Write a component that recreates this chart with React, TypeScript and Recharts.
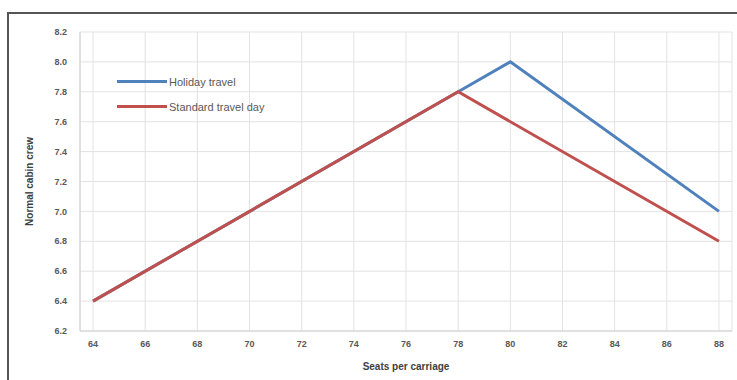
import { LineChart, Line, XAxis, YAxis, CartesianGrid } from "recharts";

const holidaySeats = [64, 78, 80, 88];
const holidayValues = [6.4, 7.8, 8.0, 7.0];
const standardSeats = [64, 78, 88];
const standardValues = [6.4, 7.8, 6.8];
const xTicks = [64, 66, 68, 70, 72, 74, 76, 78, 80, 82, 84, 86, 88];
const yTicks = [6.2, 6.4, 6.6, 6.8, 7.0, 7.2, 7.4, 7.6, 7.8, 8.0, 8.2];

const holidayData = holidaySeats.map((s, i) => ({ seats: s, value: holidayValues[i] }));
const standardData = standardSeats.map((s, i) => ({ seats: s, value: standardValues[i] }));

const blue = "#4f81bd";
const red = "#c0504d";
const font = "Arial, 'Liberation Sans', sans-serif";

function LegendBox() {
  const items = [
    { label: "Holiday travel", color: blue },
    { label: "Standard travel day", color: red },
  ];
  return (
    <div style={{ position: "absolute", left: 108, top: 55, fontFamily: font, fontSize: 11, color: "#595959" }}>
      {items.map((it) => (
        <div key={it.label} style={{ display: "flex", alignItems: "center", height: 25 }}>
          <span style={{ display: "inline-block", width: 50, height: 3, background: it.color, marginRight: 2 }} />
          <span>{it.label}</span>
        </div>
      ))}
    </div>
  );
}

export default function App() {
  return (
    <>
      <style>{"html, body { margin: 0; overflow: hidden; }"}</style>
      <div
        style={{
          position: "absolute",
          left: 7,
          top: 12,
          width: 760,
          height: 400,
          borderLeft: "2px solid #555",
          borderTop: "2px solid #555",
          background: "#fff",
          fontFamily: font,
          boxSizing: "border-box",
        }}
      >
        <LineChart width={728} height={366} margin={{ top: 18, right: 5, bottom: 0, left: 0 }}>
          <CartesianGrid stroke="#e3e3e3" strokeWidth={1} />
          <XAxis
            type="number"
            dataKey="seats"
            domain={[63.5, 88.5]}
            ticks={xTicks}
            interval={0}
            height={49}
            tick={{ fontSize: 9, fill: "#595959", fontWeight: 700 }}
            tickLine={false}
            tickMargin={4}
            axisLine={{ stroke: "#d0d0d0" }}
            label={{ value: "Seats per carriage", position: "insideBottom", offset: 10, fontSize: 10, fontWeight: 700, fill: "#404040" }}
          />
          <YAxis
            type="number"
            domain={[6.2, 8.2]}
            ticks={yTicks}
            interval={0}
            width={71}
            tickFormatter={(v: number) => v.toFixed(1)}
            tick={{ fontSize: 9, fill: "#595959", fontWeight: 700 }}
            tickLine={false}
            tickMargin={7}
            axisLine={{ stroke: "#d0d0d0" }}
            label={{ value: "Normal cabin crew", angle: -90, position: "insideLeft", offset: 20, fontSize: 10, fontWeight: 700, fill: "#404040", style: { textAnchor: "middle" } }}
          />
          <Line
            data={holidayData}
            dataKey="value"
            name="Holiday travel"
            stroke={blue}
            strokeWidth={3}
            dot={false}
            isAnimationActive={false}
          />
          <Line
            data={standardData}
            dataKey="value"
            name="Standard travel day"
            stroke={red}
            strokeWidth={3}
            dot={false}
            isAnimationActive={false}
          />
        </LineChart>
        <LegendBox />
      </div>
    </>
  );
}
